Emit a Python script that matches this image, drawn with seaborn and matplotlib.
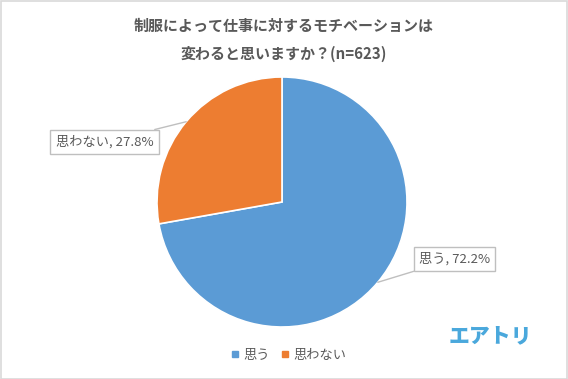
import numpy as np
import matplotlib.pyplot as plt
import seaborn as sns
from matplotlib.patches import Rectangle
from matplotlib.lines import Line2D

labels = ["思う", "思わない"]
shares = [72.2, 27.8]
title = "制服によって仕事に対するモチベーションは\n変わると思いますか？(n=623)"

sns.set_theme(style="white")
plt.rcParams['font.family'] = ['Noto Sans CJK JP', 'DejaVu Sans']

colors = ["#5B9BD5", "#ED7D31"]
text_color = "#595959"

fig = plt.figure(figsize=(5.68, 3.79), dpi=100)
fig.patch.set_facecolor("white")
fig.add_artist(Rectangle((0.001, 0.001), 0.997, 0.996, transform=fig.transFigure,
                         fill=False, edgecolor="#d9d9d9", linewidth=1.2))

cx, cy, r = 282, 202, 125
ax = fig.add_axes([(cx - r) / 568, (379 - cy - r) / 379, 2 * r / 568, 2 * r / 379])
wedges, _ = ax.pie(shares, colors=colors, startangle=90, counterclock=False,
                   radius=1, wedgeprops=dict(edgecolor="white", linewidth=1.2))
ax.set_xlim(-1, 1)
ax.set_ylim(-1, 1)
ax.set_aspect("equal")
ax.axis("off")

# callout labels
box_pos = [(1.38, -0.455), (-1.42, 0.48)]
for w, lab, val, pos in zip(wedges, labels, shares, box_pos):
    mid = np.deg2rad((w.theta1 + w.theta2) / 2)
    ax.annotate(f"{lab}, {val}%", xy=(np.cos(mid), np.sin(mid)), xytext=pos,
                ha="center", va="center", fontsize=9.5, color=text_color,
                bbox=dict(boxstyle="square,pad=0.4", fc="white", ec="#bfbfbf", lw=1),
                arrowprops=dict(arrowstyle="-", color="#bfbfbf", lw=1,
                                shrinkA=0, shrinkB=0),
                annotation_clip=False)

fig.text(0.5, 0.895, title, ha="center", va="center", fontsize=10.8,
         fontweight="bold", color=text_color, linespacing=1.95)

handles = [Line2D([], [], marker="s", linestyle="none", markersize=5,
                  markerfacecolor=c, markeredgecolor=c) for c in colors]
fig.legend(handles, labels, loc="center", bbox_to_anchor=(0.505, 0.063), ncol=2,
           frameon=False, fontsize=9.5, handletextpad=0.0, columnspacing=0.6,
           handlelength=1.2, labelcolor=text_color)

fig.text(0.789, 0.113, "エアトリ", ha="left", va="center", fontsize=15,
         fontweight="heavy", color="#4AA8DC")

fig.savefig("out.png", dpi=100)
